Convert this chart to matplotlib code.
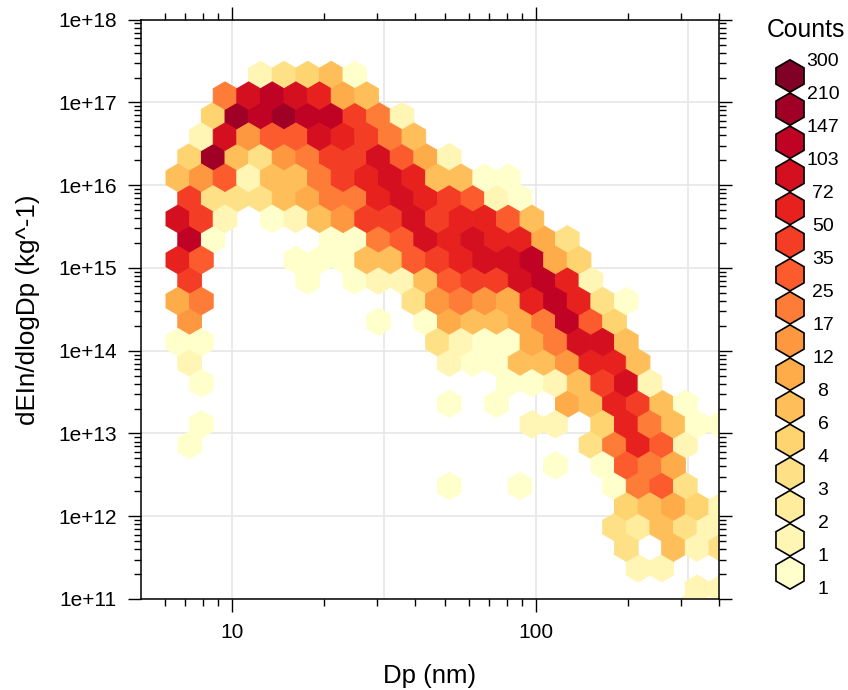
import numpy as np
import matplotlib
matplotlib.use('Agg')
import matplotlib.pyplot as plt
from matplotlib.colors import BoundaryNorm, ListedColormap
from matplotlib.patches import RegularPolygon
from matplotlib.ticker import FixedLocator, FixedFormatter, NullFormatter

plt.rcParams['font.family'] = ['Liberation Sans', 'DejaVu Sans']

# hexagon bin centres
dp_centres = [6.62, 7.24, 7.92, 8.66, 9.47, 10.35, 11.32, 12.38, 13.54, 14.80, 16.19, 17.70,
              19.35, 21.16, 23.14, 25.31, 27.67, 30.26, 33.09, 36.18, 39.57, 43.27, 47.31, 51.74,
              56.57, 61.86, 67.65, 73.97, 80.89, 88.46, 96.73, 105.8, 115.7, 126.5, 138.3, 151.2,
              165.4, 180.8, 197.8, 216.2, 236.5, 258.6, 282.8, 309.2, 338.1, 369.8, 404.3]
ein_centres = [2.145e17, 1.212e17, 6.84e16, 3.86e16, 2.18e16, 1.232e16, 6.96e15, 3.93e15, 2.22e15,
               1.254e15, 7.08e14, 4.00e14, 2.26e14, 1.276e14, 7.21e13, 4.07e13, 2.30e13, 1.30e13,
               7.33e12, 4.14e12, 2.34e12, 1.32e12, 7.46e11, 4.21e11, 2.38e11, 1.34e11, 7.51e10]

# counts per row, top row first: {index in dp_centres: count}
row_00 = {7: 2, 9: 4, 11: 5, 13: 7, 15: 1}
row_01 = {4: 20, 6: 85, 8: 125, 10: 85, 12: 60, 14: 10, 16: 7}
row_02 = {3: 5, 5: 175, 7: 125, 9: 175, 11: 125, 13: 125, 15: 42, 17: 20, 19: 2}
row_03 = {2: 2, 4: 85, 6: 14, 8: 30, 10: 30, 12: 85, 14: 60, 16: 42, 18: 20, 20: 7}
row_04 = {1: 5, 3: 175, 5: 7, 7: 4, 9: 14, 11: 20, 13: 42, 15: 42, 17: 85, 19: 30, 21: 10, 23: 2}
row_05 = {0: 7, 2: 14, 4: 30, 6: 2, 8: 7, 10: 7, 12: 20, 14: 42, 16: 60, 18: 85, 20: 60, 22: 7, 24: 7, 26: 1, 28: 1}
row_06 = {1: 42, 3: 4, 5: 4, 7: 4, 9: 7, 11: 10, 13: 20, 15: 20, 17: 60, 19: 85, 21: 60, 23: 42, 25: 30, 27: 2, 29: 1}
row_07 = {0: 85, 2: 42, 4: 2, 8: 1, 10: 2, 12: 7, 14: 14, 16: 42, 18: 42, 20: 85, 22: 42, 24: 60, 26: 60, 28: 30, 30: 7}
row_08 = {1: 125, 3: 1, 13: 1, 15: 1, 17: 20, 19: 30, 21: 85, 23: 60, 25: 85, 27: 60, 29: 60, 31: 10, 33: 4}
row_09 = {0: 60, 2: 30, 10: 1, 12: 1, 14: 1, 16: 7, 18: 7, 20: 30, 22: 42, 24: 60, 26: 85, 28: 85, 30: 125, 32: 10, 34: 5}
row_10 = {1: 42, 11: 1, 15: 1, 17: 2, 19: 2, 21: 7, 23: 30, 25: 42, 27: 42, 29: 85, 31: 125, 33: 60, 35: 2}
row_11 = {0: 10, 2: 20, 20: 4, 22: 14, 24: 20, 26: 14, 28: 10, 30: 60, 32: 125, 34: 60, 36: 4, 38: 1}
row_12 = {1: 14, 17: 1, 21: 1, 23: 10, 25: 7, 27: 7, 29: 10, 31: 20, 33: 125, 35: 30, 37: 5}
row_13 = {0: 1, 2: 1, 22: 4, 24: 2, 26: 1, 28: 1, 30: 10, 32: 20, 34: 85, 36: 85, 38: 7}
row_14 = {1: 2, 23: 2, 25: 1, 27: 1, 29: 7, 31: 7, 33: 14, 35: 60, 37: 60, 39: 7}
row_15 = {2: 1, 28: 1, 30: 1, 32: 2, 34: 7, 36: 42, 38: 85, 40: 2}
row_16 = {23: 1, 27: 1, 33: 10, 35: 7, 37: 60, 39: 42, 41: 7, 43: 1}
row_17 = {2: 1, 30: 2, 32: 2, 36: 5, 38: 60, 40: 20, 42: 7, 44: 1, 46: 1}
row_18 = {1: 1, 35: 4, 37: 20, 39: 60, 41: 30, 43: 2}
row_19 = {32: 1, 36: 1, 38: 30, 40: 20, 42: 10}
row_20 = {23: 1, 29: 1, 37: 1, 39: 20, 41: 30, 43: 4}
row_21 = {38: 5, 40: 7, 42: 10, 44: 5, 46: 2}
row_22 = {37: 4, 39: 3, 41: 7, 43: 4, 45: 2}
row_23 = {38: 4, 42: 7, 44: 2, 46: 4}
row_24 = {39: 2, 41: 2}
row_25 = {44: 2, 46: 2}
row_26 = {43: 2}
rows = [row_00, row_01, row_02, row_03, row_04, row_05, row_06, row_07, row_08, row_09,
        row_10, row_11, row_12, row_13, row_14, row_15, row_16, row_17, row_18, row_19,
        row_20, row_21, row_22, row_23, row_24, row_25, row_26]

# legend
key_labels = ['1', '1', '2', '3', '4', '6', '8', '12', '17', '25', '35', '50', '72', '103', '147', '210', '300']
key_edges = [1, 1.4, 2.5, 3.5, 4.5, 6, 8, 12, 17, 25, 35, 50, 72, 103, 147, 210, 300]

x_major = [10, 100]
x_minor = [6, 7, 8, 9, 20, 30, 40, 50, 60, 70, 80, 90, 200, 300, 400]
x_grid = [10, 31.6, 100, 316]
y_major = [10.0 ** k for k in range(11, 19)]
y_labels = ['1e+%d' % k for k in range(11, 19)]

dp = []
ein = []
counts = []
for row, y in zip(rows, ein_centres):
    for col, n in row.items():
        dp.append(dp_centres[col])
        ein.append(y)
        counts.append(n)

colours = plt.cm.YlOrRd(np.linspace(0, 1, len(key_edges) - 1))
cmap = ListedColormap(colours)
norm = BoundaryNorm(key_edges, cmap.N)

W, H = 848, 690
fig = plt.figure(figsize=(W / 100, H / 100), dpi=100)
ax = fig.add_axes([140.7 / W, (H - 599) / H, (719.3 - 140.7) / W, (599 - 19.7) / H])

# hexbin grid: half column steps of 0.03882 decades, rows of 0.2483 decades
ax.hexbin(dp, ein, C=counts, reduce_C_function=np.max, xscale='log', yscale='log',
          gridsize=(24, 14), extent=(0.7822, 2.6456, 10.8758, 17.828),
          cmap=cmap, norm=norm, linewidths=0.7, edgecolors='face', zorder=2)

ax.set_xscale('log')
ax.set_yscale('log')
ax.set_xlim(5, 400)
ax.set_ylim(1e11, 1e18)

for x in x_grid:
    ax.axvline(x, color='#e6e6e6', lw=1.2, zorder=1)
for y in y_major:
    ax.axhline(y, color='#e6e6e6', lw=1.2, zorder=1)

ax.xaxis.set_major_locator(FixedLocator(x_major))
ax.xaxis.set_major_formatter(FixedFormatter(['10', '100']))
ax.xaxis.set_minor_locator(FixedLocator(x_minor))
ax.xaxis.set_minor_formatter(NullFormatter())
ax.yaxis.set_major_locator(FixedLocator(y_major))
ax.yaxis.set_major_formatter(FixedFormatter(y_labels))
ax.yaxis.set_minor_locator(matplotlib.ticker.LogLocator(base=10, subs=range(2, 10), numticks=12))
ax.yaxis.set_minor_formatter(NullFormatter())

ax.tick_params(which='major', direction='out', length=9.2, width=1, top=True, right=True,
               labelsize=15, colors='black', pad=8)
ax.tick_params(which='minor', direction='out', length=4.9, width=1, top=True, right=True)
for s in ax.spines.values():
    s.set_linewidth(1.1)
    s.set_zorder(5)

ax.set_xlabel('Dp (nm)', fontsize=18.5, labelpad=16)
ax.set_ylabel('dEIn/dlogDp (kg^-1)', fontsize=18.7, labelpad=13)

# colour key drawn in pixel coordinates
key = fig.add_axes([0, 0, 1, 1])
key.set_xlim(0, W)
key.set_ylim(H, 0)
key.axis('off')
n_hex = len(colours)
for i in range(n_hex):
    cy = 76 + 33.13 * i
    key.add_patch(RegularPolygon((790, cy), 6, radius=16.2, facecolor=colours[n_hex - 1 - i],
                                 edgecolor='black', lw=1.2))
for i, lab in enumerate(reversed(key_labels)):
    key.text(823, 62 + 32.94 * i, lab, ha='center', va='center', fontsize=14)
key.text(806, 30, 'Counts', ha='center', va='center', fontsize=17.8)

fig.savefig('out.png', dpi=100)
